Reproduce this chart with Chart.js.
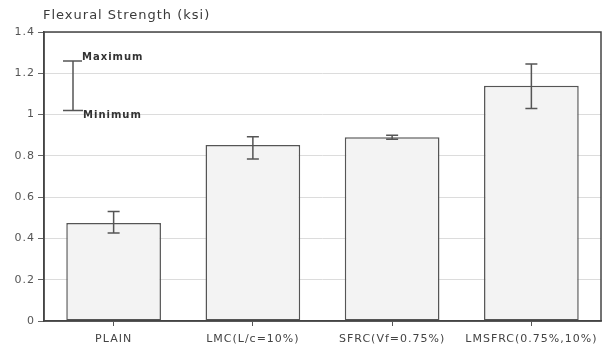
<!DOCTYPE html>
<html>
<head>
<meta charset="utf-8">
<style>
  html, body { margin: 0; padding: 0; background: #fff; }
  #wrap { width: 606px; height: 353px; position: relative; }
</style>
<script src="https://cdn.jsdelivr.net/npm/chart.js@4/dist/chart.umd.min.js"></script>
</head>
<body>
<div id="wrap"><canvas id="chart"></canvas></div>
<script>
// Flexural strength by mix type
const categories = ['PLAIN', 'LMC(L/c=10%)', 'SFRC(Vf=0.75%)', 'LMSFRC(0.75%,10%)'];
const strength = [0.475, 0.853, 0.89, 1.14];
const strengthMax = [0.53, 0.893, 0.9, 1.245];
const strengthMin = [0.426, 0.785, 0.88, 1.03];
const yTicks = [0, 0.2, 0.4, 0.6, 0.8, 1, 1.2, 1.4];
const keyMax = 1.26;
const keyMin = 1.02;

const spacing = {
    id: 'spacing',
    beforeDraw(chart) {
        chart.ctx.letterSpacing = '1px';
    }
};

const errorBars = {
    id: 'errorBars',
    afterDatasetsDraw(chart) {
        const ctx = chart.ctx;
        const y = chart.scales.y;
        const meta = chart.getDatasetMeta(0);
        ctx.save();
        ctx.strokeStyle = '#555';
        ctx.lineWidth = 1.5;
        meta.data.forEach((bar, i) => {
            const x = bar.x;
            const top = y.getPixelForValue(strengthMax[i]);
            const bot = y.getPixelForValue(strengthMin[i]);
            ctx.beginPath();
            ctx.moveTo(x, top); ctx.lineTo(x, bot);
            ctx.moveTo(x - 6, top); ctx.lineTo(x + 6, top);
            ctx.moveTo(x - 6, bot); ctx.lineTo(x + 6, bot);
            ctx.stroke();
        });

        // key in the upper left corner
        const kx = chart.chartArea.left + 29;
        const kt = y.getPixelForValue(keyMax);
        const kb = y.getPixelForValue(keyMin);
        ctx.beginPath();
        ctx.moveTo(kx, kt); ctx.lineTo(kx, kb);
        ctx.moveTo(kx - 10, kt); ctx.lineTo(kx + 9, kt);
        ctx.moveTo(kx - 10, kb); ctx.lineTo(kx + 10, kb);
        ctx.stroke();
        ctx.fillStyle = '#333';
        ctx.letterSpacing = '1px';
        ctx.font = 'bold 10px "DejaVu Sans", sans-serif';
        ctx.textBaseline = 'middle';
        ctx.fillText('Maximum', kx + 9, kt - 3);
        ctx.fillText('Minimum', kx + 10, kb + 5);

        // title
        ctx.fillStyle = '#3a3a3a';
        ctx.font = '13px "DejaVu Sans", sans-serif';
        ctx.fillText('Flexural Strength (ksi)', chart.chartArea.left - 1, 16);

        // frame
        const a = chart.chartArea;
        ctx.strokeStyle = '#444';
        ctx.lineWidth = 1.5;
        ctx.strokeRect(a.left, a.top, a.right - a.left, a.bottom - a.top);
        ctx.restore();
    }
};

const ctx = document.getElementById('chart').getContext('2d');
new Chart(ctx, {
    type: 'bar',
    data: {
        labels: categories,
        datasets: [{
            data: strength,
            backgroundColor: '#f3f3f3',
            borderColor: '#555',
            borderWidth: 1.5,
            borderSkipped: false,
            barPercentage: 0.68,
            categoryPercentage: 1.0
        }]
    },
    options: {
        responsive: true,
        maintainAspectRatio: false,
        animation: false,
        layout: { padding: { top: 32, right: 5, bottom: 0, left: 0 } },
        plugins: {
            legend: { display: false },
            tooltip: { enabled: false },
            title: { display: false }
        },
        scales: {
            x: {
                grid: { display: true, offset: false, drawOnChartArea: false, drawTicks: true, tickLength: 5, tickColor: '#555' },
                border: { color: '#444', width: 1.5 },
                ticks: {
                    color: '#444',
                    font: { family: '"DejaVu Sans", sans-serif', size: 11 },
                    padding: 7
                },
                afterFit(scale) { scale.height = 32; }
            },
            y: {
                min: 0,
                max: 1.4,
                afterBuildTicks(scale) { scale.ticks = yTicks.map(v => ({ value: v })); },
                grid: { color: '#dcdcdc', tickLength: 6, tickColor: '#666' },
                border: { color: '#444', width: 1.5 },
                ticks: {
                    color: '#555',
                    font: { family: '"DejaVu Sans", sans-serif', size: 11 },
                    padding: 3,
                    callback: v => String(v)
                },
                afterFit(scale) { scale.width = 44; }
            }
        }
    },
    plugins: [spacing, errorBars]
});
</script>
</body>
</html>
